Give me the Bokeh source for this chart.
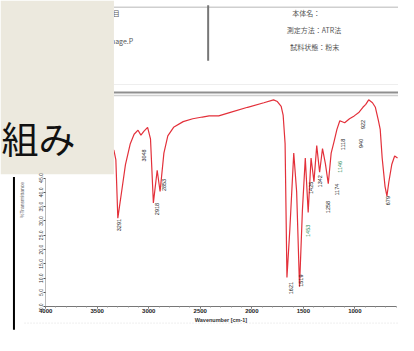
import math
from bokeh.plotting import figure
from bokeh.models import Range1d, LinearAxis, FixedTicker, PrintfTickFormatter
from bokeh.core.properties import value
from bokeh.embed import file_html
from bokeh.resources import INLINE

# ---- spectrum data (wavenumber cm-1, transmittance %) ----
wavenumber = [4000, 3800, 3600, 3450, 3338, 3319, 3300, 3263, 3226, 3179, 3142, 3104,
              3076, 3048, 3011, 2983, 2955, 2918, 2890, 2853, 2815, 2759, 2666, 2573,
              2480, 2414, 2321, 2200, 2041, 1883, 1789, 1752, 1715, 1696, 1677, 1659,
              1631, 1593, 1565, 1537, 1509, 1481, 1453, 1425, 1397, 1370, 1342, 1314,
              1286, 1258, 1230, 1202, 1174, 1146, 1099, 1052, 1006, 959, 922, 894,
              866, 829, 801, 773, 754, 735, 707, 689, 670, 642, 614, 586]
transmittance = [58.0, 58.3, 57.7, 56.7, 54.7, 51.3, 31.0, 40.3, 49.7, 57.0, 60.3, 61.7,
                 60.0, 61.3, 62.7, 58.7, 36.3, 47.7, 40.3, 53.7, 59.7, 62.7, 64.7, 65.7,
                 66.3, 66.7, 66.7, 68.0, 69.7, 71.3, 72.3, 71.7, 70.0, 67.0, 57.0, 10.3,
                 27.0, 53.7, 40.3, 7.0, 33.7, 52.0, 33.0, 52.0, 43.7, 56.3, 47.0, 55.3,
                 50.0, 43.0, 53.7, 57.7, 62.0, 65.0, 64.3, 65.7, 66.7, 68.0, 69.7, 70.7,
                 72.3, 71.3, 69.7, 65.3, 62.0, 52.0, 42.0, 38.7, 43.7, 49.7, 52.7, 52.0]

# ---- peak labels ----
peak_wn = [3291, 3048, 2918, 2853, 1621, 1519, 1453, 1425, 1342, 1258, 1174, 1146, 1118, 940, 922, 679]
peak_pos = [30.7, 55.0, 36.3, 44.7, 8.7, 11.3, 28.7, 43.7, 46.0, 37.0, 43.0, 51.0, 58.7, 58.7, 65.3, 38.7]
peak_text = ["3291", "3048", "2918", "2853", "1621", "1519", "1453", "1425", "1342",
             "1258", "1174", "1146", "1118", "940", "922", "679"]
peak_color = ["#222222", "#222222", "#222222", "#222222", "#222222", "#222222", "#2E8B57",
              "#222222", "#222222", "#222222", "#222222", "#2E8B57", "#222222", "#222222",
              "#222222", "#222222"]

x_ticks = [4000, 3500, 3000, 2500, 2000, 1500, 1000, 500]
x_minor = list(range(4000, 500, -100))
y_ticks = [0, 5, 10, 15, 20, 25, 30, 35, 40, 45]

x_title = "Wavenumber [cm-1]"
y_title = "%Transmittance"

# header table texts
header_left = ["測定項目", "データ：image.P"]
header_right = ["本体名：", "測定方法：ATR法", "試料状態：粉末"]
panel_text = "組み"

p = figure(width=398, height=335, output_backend="svg", toolbar_location=None,
           x_range=Range1d(4438.4, 576.6), y_range=Range1d(-10, 107),
           x_axis_location=None, y_axis_location=None, min_border=0,
           outline_line_color=None, background_fill_color="white",
           border_fill_color="white")
p.grid.visible = False
p.extra_x_ranges = {"px": Range1d(0, 414)}
p.extra_y_ranges = {"py": Range1d(351, 0)}
PX = dict(x_range_name="px", y_range_name="py")

# faint plot border
p.segment(x0=[25], y0=[338], x1=[414], y1=[338], line_color="#dddddd",
          line_width=1, line_dash="1 2", **PX)

# header table lines
p.segment(x0=[118], y0=[7], x1=[414], y1=[7], line_color="#cfcfcf", line_width=1.5, **PX)
p.segment(x0=[216], y0=[5], x1=[216], y1=[63], line_color="#777777", line_width=2, **PX)
p.segment(x0=[118], y0=[88], x1=[414], y1=[88], line_color="#eeeeee", line_width=1, **PX)
p.segment(x0=[118], y0=[96.5], x1=[414], y1=[96.5], line_color="#8f8f8f", line_width=2, **PX)
p.segment(x0=[118], y0=[99.5], x1=[414], y1=[99.5], line_color="#d0d0d0", line_width=1.5, **PX)

# header texts
p.text(x=[124, 138], y=[13, 42], text=header_left, text_align="right",
       text_baseline="middle", text_font=value("Noto Sans CJK JP"),
       text_font_size="7px", text_color="#555555", **PX)
p.text(x=[318, 326, 327], y=[13, 31, 49], text=header_right, text_align="center",
       text_baseline="middle", text_font=value("Noto Sans CJK JP"),
       text_font_size="7px", text_color="#555555", **PX)

# spectrum
p.line(wavenumber, transmittance, line_color="#E3303A", line_width=1.2)

# peak labels
p.text(x=peak_wn, y=peak_pos, text=peak_text, angle=math.pi / 2, text_align="right",
       text_baseline="middle", text_font=value("Liberation Sans"),
       text_font_size="5.5px", text_color=peak_color)

# y title
p.text(x=[22], y=[209], text=[y_title], angle=math.pi / 2, text_align="center",
       text_baseline="middle", text_font=value("Liberation Sans"),
       text_font_size="5px", text_color="#666666", **PX)

# beige panel covering left top
p.quad(left=[0], right=[118], top=[0], bottom=[182], fill_color="#ECE9DE",
       line_color=None, **PX)
p.text(x=[1], y=[144], text=[panel_text], text_align="left", text_baseline="middle",
       text_font=value("Noto Sans CJK JP"), text_font_size="37px", text_color="#111111",
       **PX)

# black window edge
p.segment(x0=[14], y0=[185], x1=[14], y1=[345], line_color="#000000", line_width=2, **PX)

# axes
xaxis = LinearAxis(fixed_location=0, bounds=(4000, 600),
                   ticker=FixedTicker(ticks=x_ticks, minor_ticks=x_minor))
xaxis.axis_label = x_title
xaxis.axis_label_standoff = 1
xaxis.axis_label_text_font = "Liberation Sans"
xaxis.axis_label_text_font_size = "5.5px"
xaxis.axis_label_text_font_style = "bold"
xaxis.axis_label_text_color = "#333333"
xaxis.major_label_text_font = "Liberation Sans"
xaxis.major_label_text_font_size = "6px"
xaxis.major_label_text_font_style = "bold"
xaxis.major_label_text_color = "#222222"
xaxis.major_label_standoff = 0
xaxis.axis_line_color = "#777777"
xaxis.major_tick_line_color = "#555555"
xaxis.minor_tick_line_color = "#999999"
xaxis.major_tick_out = 2
xaxis.major_tick_in = 0
xaxis.minor_tick_out = 1
xaxis.minor_tick_in = 0
p.add_layout(xaxis, "below")

yaxis = LinearAxis(fixed_location=4000, bounds=(0, 45),
                   ticker=FixedTicker(ticks=y_ticks, minor_ticks=[]),
                   formatter=PrintfTickFormatter(format="%.1f"))
yaxis.major_label_orientation = "vertical"
yaxis.major_label_text_font = "Liberation Sans"
yaxis.major_label_text_font_size = "5px"
yaxis.major_label_text_color = "#333333"
yaxis.major_label_standoff = 1
yaxis.axis_line_color = "#bbbbbb"
yaxis.major_tick_line_color = "#555555"
yaxis.major_tick_out = 2
yaxis.major_tick_in = 0
p.add_layout(yaxis, "left")

open("out.html", "w").write(file_html(p, INLINE))
